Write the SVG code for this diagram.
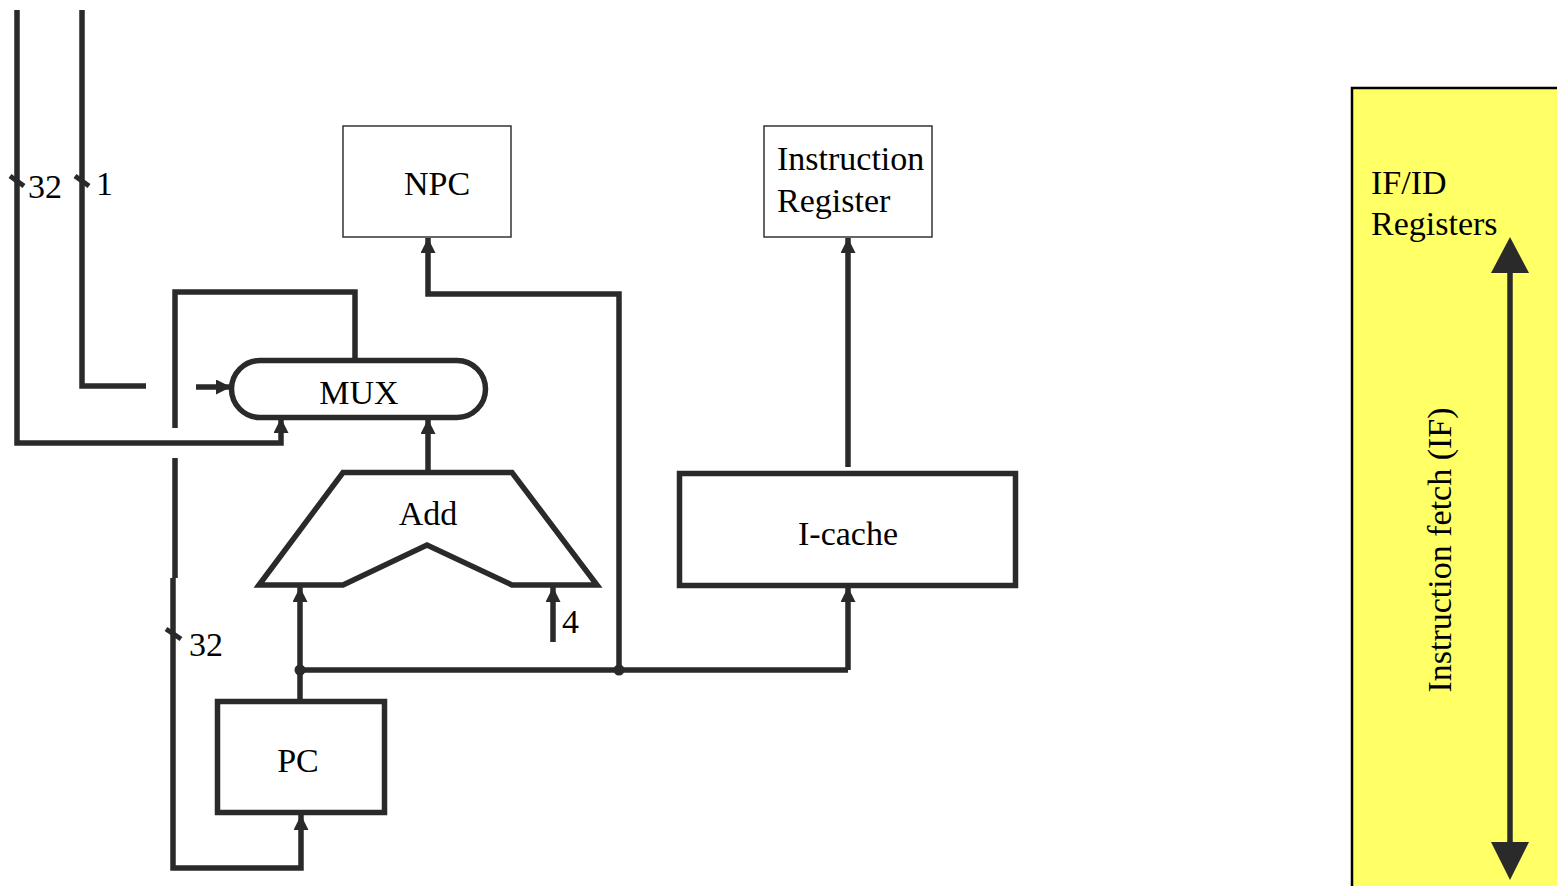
<svg xmlns="http://www.w3.org/2000/svg" width="1557" height="886" viewBox="0 0 1557 886">
<defs>
<marker id="ah" viewBox="0 0 10 10" refX="10" refY="5" markerWidth="15" markerHeight="15" markerUnits="userSpaceOnUse" orient="auto">
<path d="M0,0 L10,5 L0,10 Z" fill="#2a2a2a"/>
</marker>
</defs>
<style>
.w{fill:none;stroke:#2a2a2a;stroke-width:5.5;stroke-linejoin:miter;stroke-linecap:butt}
.a{marker-end:url(#ah)}
.box{fill:#fff;stroke:#2a2a2a;stroke-width:5.5}
.thin{fill:#fff;stroke:#333;stroke-width:1.5}
.t{font-family:"Liberation Serif","Times New Roman",serif;font-size:34px;fill:#000}
.m{text-anchor:middle}
.tick{stroke:#2a2a2a;stroke-width:5}
</style>
<rect width="1557" height="886" fill="#fff"/>
<g id="stage">
<rect x="1352" y="88" width="215" height="810" fill="#ffff66" stroke="#000" stroke-width="2.5"/>
<text class="t" x="1371" y="194">IF/ID</text>
<text class="t" x="1371" y="235">Registers</text>
<text class="t m" transform="translate(1451,550) rotate(-90)">Instruction fetch (IF)</text>
</g>
<g id="connectors">
<path class="w" d="M17,10 V443 H281 V434"/>
<path class="w a" d="M281,434 V418"/>
<path class="w" d="M82,10 V386 H146"/>
<path class="w a" d="M196,387 H231"/>
<path class="w" d="M175,428 V292 H355 V360"/>
<path class="w" d="M175,458 V578 M173,578 V868 H301 V830"/>
<path class="w a" d="M301,830 V815"/>
<path class="w a" d="M428,472 V419"/>
<path class="w a" d="M300,670 V587"/>
<path class="w a" d="M553,642 V587"/>
<path class="w" d="M300,701 V670 H848"/>
<path class="w a" d="M848,670 V587"/>
<path class="w a" d="M619,670 V294 H428 V238"/>
<path class="w a" d="M848,467 V238"/>
<path class="w" d="M1510,260 V860"/>
<path d="M1510,237 L1529,273 L1491,273 Z" fill="#2a2a2a"/>
<path d="M1510,880 L1529,842 L1491,842 Z" fill="#2a2a2a"/>
<circle cx="300" cy="670" r="5.5" fill="#2a2a2a"/>
<circle cx="619" cy="670" r="5.5" fill="#2a2a2a"/>
<line class="tick" x1="10" y1="176" x2="24" y2="186"/>
<line class="tick" x1="75" y1="176" x2="89" y2="186"/>
<line class="tick" x1="166" y1="629" x2="181" y2="639"/>
<text class="t" x="28" y="198">32</text>
<text class="t" x="96" y="195">1</text>
<text class="t" x="189" y="656">32</text>
<text class="t" x="562" y="633">4</text>
</g>
<g id="mux">
<rect x="231.5" y="360.5" width="254" height="57" rx="28.5" ry="28.5" class="box"/>
<text class="t m" x="359" y="404">MUX</text>
</g>
<g id="add">
<path class="box" d="M343,472.5 H512 L597,585 H512 L427,545 L343,585 H259 Z"/>
<text class="t m" x="428" y="525">Add</text>
</g>
<g id="npc">
<rect class="thin" x="343" y="126" width="168" height="111"/>
<text class="t m" x="437" y="195">NPC</text>
</g>
<g id="ir">
<rect class="thin" x="764" y="126" width="168" height="111"/>
<text class="t" x="777" y="170">Instruction</text>
<text class="t" x="777" y="212">Register</text>
</g>
<g id="icache">
<rect class="box" x="679.5" y="473.5" width="336" height="112"/>
<text class="t m" x="848" y="545">I-cache</text>
</g>
<g id="pc">
<rect class="box" x="217.5" y="701.5" width="167" height="111"/>
<text class="t m" x="298" y="772">PC</text>
</g>
</svg>
